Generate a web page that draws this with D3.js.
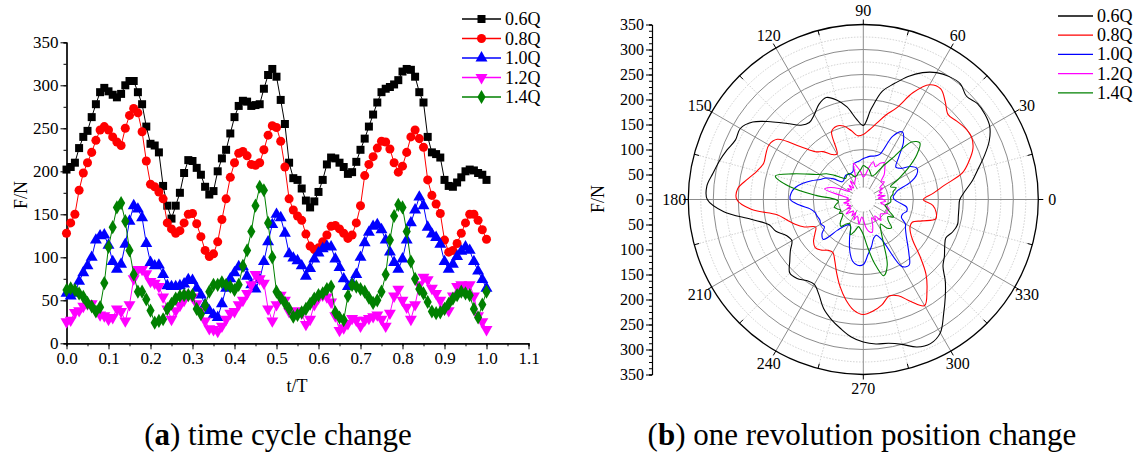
<!DOCTYPE html>
<html>
<head>
<meta charset="utf-8">
<script src="https://cdn.jsdelivr.net/npm/d3@7"></script>
<style>
  body { margin: 0; background: #fff; }
  svg text { font-family: "Liberation Serif", "Tinos", "DejaVu Serif", serif !important; fill: #000; }
</style>
</head>
<body>
<svg id="chart" width="1137" height="455"></svg>
<script>
// ---------- shared ----------
var seriesNames = ["0.6Q", "0.8Q", "1.0Q", "1.2Q", "1.4Q"];
var seriesColors = ["#000000", "#ff0000", "#0000ff", "#ff00ff", "#008000"];

// ---------- (a) time cycle change ----------
var tValues = d3.range(0, 101).map(function (i) { return i / 100; });
var tTicks = [0, 0.1, 0.2, 0.3, 0.4, 0.5, 0.6, 0.7, 0.8, 0.9, 1.0, 1.1];
var fTicks = [0, 50, 100, 150, 200, 250, 300, 350];

var f06 = [202,205,210,227,240,247,263,278,292,297,293,289,286,290,300,305,305,292,278,252,
           232,230,222,183,160,145,160,175,198,213,212,204,196,182,173,177,200,215,225,244,
           263,276,282,281,276,277,278,296,312,319,310,283,255,210,192,190,180,166,158,165,
           176,190,208,216,215,210,205,197,199,211,225,238,252,266,280,292,296,298,301,306,
           316,319,318,310,292,280,240,222,220,216,190,183,182,187,193,200,202,201,198,196,190];
var f08 = [128,140,150,178,198,210,222,236,248,252,248,240,234,230,250,265,273,268,246,212,
           185,182,176,168,140,133,128,131,140,150,151,139,124,108,101,104,118,144,168,193,
           210,221,223,218,208,207,210,225,242,253,251,235,205,168,155,148,143,127,113,109,
           111,118,126,136,137,133,128,122,126,140,160,195,208,217,227,235,234,226,210,199,
           206,222,240,248,238,228,190,172,162,151,120,106,108,116,128,140,150,150,143,132,121];
var f10 = [58,55,58,72,82,90,100,120,125,126,114,95,86,92,115,142,160,156,146,116,
           94,90,91,80,67,66,66,67,69,74,73,64,56,45,38,33,30,46,64,75,
           82,89,89,78,68,63,74,95,118,138,150,146,128,104,99,96,90,78,87,98,
           105,110,113,112,98,88,75,66,70,80,100,117,129,136,138,132,120,106,94,86,
           98,120,140,155,170,160,135,127,123,115,95,86,92,101,107,112,108,95,84,74,64];
var f12 = [25,27,36,38,43,46,46,38,33,32,28,30,40,37,26,45,75,86,86,81,
           72,70,66,54,40,28,38,44,50,57,54,46,38,26,17,16,14,20,28,35,
           37,45,50,58,68,80,75,70,40,26,45,56,50,37,35,38,35,22,28,45,
           53,56,54,48,32,15,18,23,29,27,20,27,29,31,33,28,20,35,55,63,
           50,42,28,45,68,77,74,64,58,50,40,38,55,66,68,66,68,55,32,25,16];
var f14 = [62,64,62,58,54,47,43,37,42,70,112,135,158,163,142,108,80,60,60,51,
           38,24,26,28,40,46,52,55,56,56,56,40,34,44,60,68,68,71,68,66,
           62,68,90,108,130,160,182,178,140,100,60,53,47,40,31,33,36,40,46,52,
           56,58,63,66,36,30,27,55,68,66,63,60,53,47,50,60,80,120,148,161,
           158,130,95,75,63,58,48,37,35,36,40,46,52,56,60,58,56,40,30,45,60];
var seriesA = [f06, f08, f10, f12, f14];

// ---------- (b) one revolution position change ----------
var thetaDeg = d3.range(0, 360, 5);
var rTicks = [-350, -300, -250, -200, -150, -100, -50, 0, 50, 100, 150, 200, 250, 300, 350];
var angleTicks = [0, 30, 60, 90, 120, 150, 180, 210, 240, 270, 300, 330];

var r06 = [193,205,222,238,258,278,292,297,298,292,302,300,293,280,262,240,220,182,
           148,162,188,206,217,210,196,188,194,215,242,270,284,282,290,298,305,314,
           312,280,228,195,186,170,165,178,192,208,206,198,196,210,232,248,262,276,
           285,290,292,300,314,318,308,280,255,232,208,198,188,182,190,195,193,192];
var r08 = [120,140,165,205,225,242,250,249,244,240,255,270,265,236,195,175,155,140,
           130,128,140,152,156,150,105,110,125,135,165,210,218,215,212,220,235,252,
           253,225,175,158,145,130,110,118,130,136,132,124,122,135,156,180,203,222,
           230,224,214,200,205,225,245,222,195,160,130,115,108,108,125,150,148,140];
var r10 = [62,60,64,72,100,118,124,115,97,92,110,140,156,140,96,90,88,85,
           82,78,76,74,60,58,58,60,58,55,55,72,86,95,110,125,138,145,
           146,128,108,100,98,96,98,95,108,113,80,65,58,60,80,105,125,132,
           130,110,95,80,76,90,155,160,142,125,112,103,97,84,84,90,88,72];
var r12 = [40,30,45,30,40,35,45,40,55,50,65,75,85,80,70,78,65,50,
           45,55,65,75,45,40,35,45,30,40,30,38,32,50,70,80,45,30,
           35,28,40,30,35,28,38,30,45,35,30,40,30,45,35,40,50,35,
           40,55,65,68,55,40,50,40,55,48,45,50,55,52,55,45,35,45];
var r14 = [55,55,60,62,70,60,80,110,140,160,150,100,75,55,50,55,62,65,
           68,60,55,50,48,55,60,58,55,62,75,90,100,120,150,182,150,95,
           55,50,55,60,55,50,55,50,55,65,70,60,55,60,75,65,55,60,
           70,95,130,158,140,95,70,60,75,80,65,60,70,58,50,45,50,55];
var seriesB = [r06, r08, r10, r12, r14];

var svg = d3.select("#chart");

// ================= panel (a) =================
var x = d3.scaleLinear().domain([0, 1.1]).range([66.5, 528.5]);
var y = d3.scaleLinear().domain([0, 350]).range([343.3, 42.3]);

var gA = svg.append("g");

var minorX = d3.range(0, 23).map(function (i) { return i * 0.05; });
var minorY = d3.range(0, 15).map(function (i) { return i * 25; });

gA.append("g")
  .attr("transform", "translate(0," + y(0) + ")")
  .call(d3.axisBottom(x).tickValues(minorX).tickSize(3).tickFormat(""));
gA.append("g")
  .attr("class", "xaxis")
  .attr("transform", "translate(0," + y(0) + ")")
  .call(d3.axisBottom(x).tickValues(tTicks).tickSize(6).tickSizeOuter(0).tickFormat(d3.format(".1f")));
gA.append("g")
  .attr("transform", "translate(" + x(0) + ",0)")
  .call(d3.axisLeft(y).tickValues(minorY).tickSize(3).tickFormat(""));
gA.append("g")
  .attr("class", "yaxis")
  .attr("transform", "translate(" + x(0) + ",0)")
  .call(d3.axisLeft(y).tickValues(fTicks).tickSize(6).tickSizeOuter(0));

gA.selectAll(".domain").attr("stroke", "#000").attr("stroke-width", 1.2);
gA.selectAll(".tick line").attr("stroke", "#000");
gA.selectAll(".xaxis text").attr("font-size", 17).attr("y", 9);
gA.selectAll(".yaxis text").attr("font-size", 17).attr("x", -8);

gA.append("text")
  .attr("x", 297).attr("y", 392)
  .attr("text-anchor", "middle").attr("font-size", 18)
  .text("t/T");
gA.append("text")
  .attr("transform", "translate(27,195) rotate(-90)")
  .attr("text-anchor", "middle").attr("font-size", 18)
  .text("F/N");

var symbols = [d3.symbolSquare, d3.symbolCircle, d3.symbolTriangle, d3.symbolTriangle, d3.symbolDiamond];
var symbolSizes = [64, 64, 62, 62, 58];
var symbolRot = ["", "", "", " rotate(180)", ""];

var lineA = d3.line()
  .x(function (d, i) { return x(tValues[i]); })
  .y(function (d) { return y(d); });

seriesA.forEach(function (vals, k) {
  var sym = d3.symbol().type(symbols[k]).size(symbolSizes[k]);
  gA.append("path")
    .attr("d", lineA(vals))
    .attr("fill", "none")
    .attr("stroke", seriesColors[k])
    .attr("stroke-width", 1);
  gA.append("g")
    .selectAll("path")
    .data(vals)
    .enter()
    .append("path")
    .attr("d", sym)
    .attr("fill", seriesColors[k])
    .attr("transform", function (d, i) {
      return "translate(" + x(tValues[i]) + "," + y(d) + ")" + symbolRot[k];
    });
});

// legend (a)
var legA = gA.append("g").attr("transform", "translate(462,19)");
seriesNames.forEach(function (name, k) {
  var row = legA.append("g").attr("transform", "translate(0," + (k * 19.5) + ")");
  row.append("line").attr("x1", 0).attr("x2", 39).attr("stroke", seriesColors[k]).attr("stroke-width", 1.3);
  row.append("path")
    .attr("d", d3.symbol().type(symbols[k]).size(symbolSizes[k]))
    .attr("fill", seriesColors[k])
    .attr("transform", "translate(19.5,0)" + symbolRot[k]);
  row.append("text").attr("x", 43).attr("y", 6).attr("font-size", 18).text(name);
});

// ================= panel (b) =================
var cx = 863.3, cy = 199.5, R = 175;
var rr = d3.scaleLinear().domain([0, 350]).range([0, R]);
var gB = svg.append("g").attr("transform", "translate(" + cx + "," + cy + ")");

// circular grid
d3.range(25, 350, 25).forEach(function (v) {
  var solid = v % 50 === 0;
  gB.append("circle")
    .attr("r", rr(v))
    .attr("fill", "none")
    .attr("stroke", solid ? "#8c8c8c" : "#c4c4c4")
    .attr("stroke-width", solid ? 1 : 0.8)
    .attr("stroke-dasharray", solid ? null : "1.5,1.5");
});
// radial grid
d3.range(0, 360, 15).forEach(function (a) {
  var solid = a % 30 === 0;
  var rad = a * Math.PI / 180;
  gB.append("line")
    .attr("x1", 0).attr("y1", 0)
    .attr("x2", R * Math.cos(rad)).attr("y2", -R * Math.sin(rad))
    .attr("stroke", solid ? "#8c8c8c" : "#c4c4c4")
    .attr("stroke-width", solid ? 1 : 0.8)
    .attr("stroke-dasharray", solid ? null : "1.5,1.5");
  // ticks on the outer circle
  var r1 = solid ? R : R - 5, r2 = solid ? R + 5 : R;
  gB.append("line")
    .attr("x1", r1 * Math.cos(rad)).attr("y1", -r1 * Math.sin(rad))
    .attr("x2", r2 * Math.cos(rad)).attr("y2", -r2 * Math.sin(rad))
    .attr("stroke", "#000").attr("stroke-width", 1);
});
gB.append("circle").attr("r", R).attr("fill", "none").attr("stroke", "#000").attr("stroke-width", 1.3);
// clear the centre, where the spikes of the inner curve crowd together
gB.append("circle").attr("r", rr(24)).attr("fill", "#fff");

// angle labels
angleTicks.forEach(function (a) {
  var rad = a * Math.PI / 180;
  gB.append("text")
    .attr("x", 189 * Math.cos(rad))
    .attr("y", -189 * Math.sin(rad))
    .attr("dy", "0.35em")
    .attr("text-anchor", "middle")
    .attr("font-size", 16)
    .text(a);
});

// curves
var lineB = d3.lineRadial()
  .angle(function (d, i) { return (90 - thetaDeg[i]) * Math.PI / 180; })
  .radius(function (d) { return rr(d); })
  .curve(d3.curveCatmullRomClosed.alpha(0.5));

seriesB.forEach(function (vals, k) {
  gB.append("path")
    .attr("d", lineB(vals))
    .attr("fill", "none")
    .attr("stroke", seriesColors[k])
    .attr("stroke-width", 1.1);
});

// left radial axis
var yB = d3.scaleLinear().domain([-350, 350]).range([cy + R, cy - R]);
var minorB = d3.range(-350, 351, 12.5);
svg.append("g")
  .attr("transform", "translate(652,0)")
  .call(d3.axisLeft(yB).tickValues(minorB).tickSize(3).tickFormat(""));
var axB = svg.append("g")
  .attr("class", "baxis")
  .attr("transform", "translate(652,0)")
  .call(d3.axisLeft(yB).tickValues(rTicks).tickSize(6).tickSizeOuter(0)
        .tickFormat(function (d) { return Math.abs(d); }));
svg.selectAll(".baxis .domain").attr("stroke-width", 1.2);
axB.selectAll("text").attr("font-size", 16).attr("x", -8);

svg.append("text")
  .attr("transform", "translate(604,199) rotate(-90)")
  .attr("text-anchor", "middle").attr("font-size", 18)
  .text("F/N");

// legend (b)
var legB = svg.append("g").attr("transform", "translate(1058,16)");
seriesNames.forEach(function (name, k) {
  var row = legB.append("g").attr("transform", "translate(0," + (k * 19.2) + ")");
  row.append("line").attr("x1", 0).attr("x2", 35).attr("stroke", seriesColors[k]).attr("stroke-width", 1.3);
  row.append("text").attr("x", 39).attr("y", 6).attr("font-size", 18).text(name);
});

// ================= captions =================
function caption(cxPos, letter, rest) {
  var t = svg.append("text")
    .attr("x", cxPos).attr("y", 445)
    .attr("text-anchor", "middle")
    .attr("font-size", 31);
  t.append("tspan").text("(");
  t.append("tspan").attr("font-weight", "bold").text(letter);
  t.append("tspan").text(") " + rest);
}
caption(278, "a", "time cycle change");
caption(862, "b", "one revolution position change");
</script>
</body>
</html>
